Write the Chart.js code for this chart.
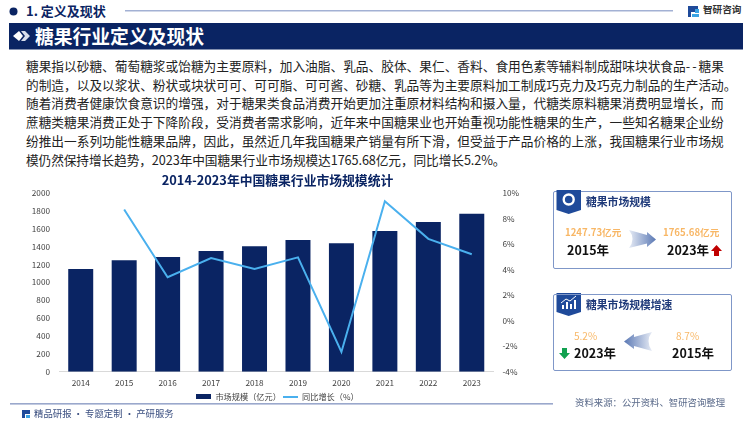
<!DOCTYPE html>
<html lang="zh">
<head>
<meta charset="utf-8">
<script src="https://cdn.jsdelivr.net/npm/chart.js@4"></script>
<style>
  html, body { margin: 0; padding: 0; background: #fff; }
  body { width: 750px; height: 422px; position: relative; overflow: hidden; font-family: "Noto Sans CJK SC", sans-serif; }
  .t { position: absolute; white-space: nowrap; line-height: 1; }
  svg { position: absolute; overflow: visible; }
  #chartWrap { position: absolute; left: 20px; top: 165px; width: 515px; height: 246px; }
  .line { position: absolute; left: 26px; white-space: nowrap; font-size: 12.7px; line-height: 1; color: #222; }
  .card { position: absolute; left: 553px; width: 177px; border: 1px solid #7f97c8; border-radius: 2px; box-sizing: content-box; }
  .cardTitle { position: absolute; left: 586px; white-space: nowrap; font-size: 10.8px; font-weight: 700; line-height: 1; color: #1f3a7a; }
  .num { position: absolute; white-space: nowrap; font-size: 9.6px; font-weight: 700; line-height: 1; color: #f8b766; }
  .yr { position: absolute; white-space: nowrap; font-size: 12.5px; font-weight: 700; line-height: 1; color: #111; }
</style>
</head>
<body>

<!-- header -->
<svg style="left:0;top:0" width="750" height="60">
  <circle cx="13.5" cy="11.5" r="4" fill="#0a2463"/>
  <rect x="125" y="10" width="548" height="1.5" fill="#a3b1d4"/>
  <rect x="9" y="23" width="734" height="26.5" fill="#0a2463"/>
  <path d="M13 36 L19 31 L23 36 L19 41Z" fill="#fff"/>
  <path d="M21 31 L25 31 L30 36 L25 41 L21 41 L25 36Z" fill="#d8deec"/>
  <!-- logo -->
  <path d="M688 6 H698 V12 H691 V17 H688Z" fill="#1f4a9a"/>
  <path d="M699 9 H695 V13 H699Z M692 17 H699 V14 H692Z" fill="#3aa3e3"/>
</svg>
<div class="t" style="left:26px;top:4px;font-size:13px;font-weight:700;color:#0a2463">1. 定义及现状</div>
<div class="t" style="left:703px;top:5px;font-size:9.6px;font-weight:700;color:#333">智研咨询</div>
<div class="t" style="left:35px;top:26.5px;font-size:18.8px;font-weight:700;color:#fff">糖果行业定义及现状</div>

<!-- body text -->
<div class="line" style="top:60px">糖果指以砂糖、葡萄糖浆或饴糖为主要原料，加入油脂、乳品、胶体、果仁、香料、食用色素等辅料制成甜味块状食品<span style="letter-spacing:2px">--</span>糖果</div>
<div class="line" style="top:78.5px">的制造，以及以浆状、粉状或块状可可、可可脂、可可酱、砂糖、乳品等为主要原料加工制成巧克力及巧克力制品的生产活动。</div>
<div class="line" style="top:97px">随着消费者健康饮食意识的增强，对于糖果类食品消费开始更加注重原材料结构和摄入量，代糖类原料糖果消费明显增长，而</div>
<div class="line" style="top:116px">蔗糖类糖果消费正处于下降阶段，受消费者需求影响，近年来中国糖果业也开始重视功能性糖果的生产，一些知名糖果企业纷</div>
<div class="line" style="top:135px">纷推出一系列功能性糖果品牌，因此，虽然近几年我国糖果产销量有所下滑，但受益于产品价格的上涨，我国糖果行业市场规</div>
<div class="line" style="top:154px;letter-spacing:-0.1px">模仍然保持增长趋势，2023年中国糖果行业市场规模达1765.68亿元，同比增长5.2%。</div>

<!-- chart -->
<div id="chartWrap"><canvas id="marketChart"></canvas></div>

<!-- card 1 -->
<div class="card" style="top:191px;height:76px"></div>
<svg style="left:0;top:0" width="750" height="422">
  <defs>
    <linearGradient id="fadeR" x1="0" x2="1" y1="0" y2="0">
      <stop offset="0" stop-color="#e6ebf5"/><stop offset="1" stop-color="#5a78b4"/>
    </linearGradient>
    <linearGradient id="fadeL" x1="1" x2="0" y1="0" y2="0">
      <stop offset="0" stop-color="#e6ebf5"/><stop offset="1" stop-color="#5a78b4"/>
    </linearGradient>
  </defs>
  <path d="M556.5 190 H581 V210 L568.7 214 L556.5 210Z" fill="#1f4a9a"/>
  <circle cx="568.7" cy="199.5" r="5" fill="none" stroke="#fff" stroke-width="2.4"/>
  <path d="M629 230 L647 235 V232 L656 239.5 L647 247 V243.500 L629 248 Q636 239 629 230Z" fill="url(#fadeR)"/>
  <path d="M716.500 245 L722 251 H719 V256 H714 V251 H711Z" fill="#c00000"/>

  <path d="M556.500 293 H581 V312 L568.700 316 L556.500 312Z" fill="#1f4a9a"/>
  <path d="M562 309 V305 H564 V309Z M566 309 V302 H568 V309Z M570 309 V304 H572 V309Z M574 309 V300 H576 V309Z" fill="#fff"/>
  <path d="M561 303 L566 299 L570 301 L576 296" fill="none" stroke="#fff" stroke-width="1"/>
  <path d="M652 332 L634 337 V334 L624 341.500 L634 349 V346 L652 351 Q645 341 652 332Z" fill="url(#fadeL)"/>
  <path d="M564.500 359 L570 353 H567 V348 H562 V353 H559Z" fill="#12a150"/>

  <rect x="10" y="403" width="543" height="1.6" fill="#9aa8cc"/>
  <path d="M22 410 H30 V414 H25 V418 H22Z" fill="#1f4a9a"/>
  <path d="M30 415 H26 V418 H30Z" fill="#3aa3e3"/>
</svg>
<div class="cardTitle" style="top:196px">糖果市场规模</div>
<div class="num" style="left:565px;top:228px">1247.73亿元</div>
<div class="yr" style="left:567px;top:244px">2015年</div>
<div class="num" style="left:663px;top:228px">1765.68亿元</div>
<div class="yr" style="left:667px;top:244px">2023年</div>

<!-- card 2 -->
<div class="card" style="top:294px;height:75px"></div>
<div class="cardTitle" style="top:299px">糖果市场规模增速</div>
<div class="num" style="left:574px;top:331px;font-weight:400;font-size:10px">5.2%</div>
<div class="yr" style="left:574px;top:347px">2023年</div>
<div class="num" style="left:676px;top:331px;font-weight:400;font-size:10px">8.7%</div>
<div class="yr" style="left:672px;top:347px">2015年</div>

<!-- footer -->
<div class="t" style="left:575px;top:398px;font-size:9.4px;color:#5a6a8a">资料来源：公开资料、智研咨询整理</div>
<div class="t" style="left:34px;top:409px;font-size:9.4px;color:#3b4f80">精品研报 · 专题定制 · 产研服务</div>

<script>
const years = ['2014', '2015', '2016', '2017', '2018', '2019', '2020', '2021', '2022', '2023'];
const marketSize = [1149, 1247.73, 1283, 1350, 1402, 1473, 1436, 1574, 1675, 1765.68];
const growthRate = [null, 8.7, 3.4, 4.9, 4.05, 4.95, -2.45, 9.35, 6.4, 5.2];
const sizeTicks = [0, 200, 400, 600, 800, 1000, 1200, 1400, 1600, 1800, 2000];

const navy = '#0a2463';
const sky = '#4ab0ee';
const tickFont = { family: '"Noto Sans CJK SC", sans-serif', size: 8.2 };

// legend swatches are wider than the default point styles
function swatch(color, h) {
    const c = document.createElement('canvas');
    c.width = 15;
    c.height = h;
    const g = c.getContext('2d');
    g.fillStyle = color;
    g.fillRect(0, 0, 15, h);
    return c;
}

new Chart(document.getElementById('marketChart'), {
    type: 'bar',
    data: {
        labels: years,
        datasets: [
            {
                type: 'line',
                label: '同比增长（%）',
                data: growthRate,
                borderColor: sky,
                backgroundColor: sky,
                borderWidth: 2,
                pointRadius: 0,
                tension: 0,
                yAxisID: 'y1',
                pointStyle: swatch(sky, 2),
                order: 1
            },
            {
                label: '市场规模（亿元）',
                data: marketSize,
                backgroundColor: navy,
                barPercentage: 0.575,
                categoryPercentage: 1,
                yAxisID: 'y',
                pointStyle: swatch(navy, 5),
                order: 2
            }
        ]
    },
    options: {
        responsive: true,
        maintainAspectRatio: false,
        animation: false,
        layout: { padding: 0 },
        plugins: {
            title: {
                display: true,
                text: '2014-2023年中国糖果行业市场规模统计',
                color: navy,
                font: { family: tickFont.family, size: 12.8, weight: '700' },
                padding: { top: 7, bottom: 5.5 }
            },
            legend: {
                position: 'bottom',
                reverse: true,
                labels: {
                    usePointStyle: true,
                    pointStyleWidth: 15,
                    color: '#404040',
                    font: tickFont,
                    padding: 2,
                    boxHeight: 8
                }
            },
            tooltip: { enabled: false }
        },
        scales: {
            x: {
                grid: { display: false, drawTicks: false },
                border: { color: '#d9d9d9' },
                ticks: { color: '#404040', font: tickFont, padding: 6, maxRotation: 0 },
                afterFit: function (s) { s.height = 19; }
            },
            y: {
                min: 0,
                max: 2000,
                afterBuildTicks: function (s) { s.ticks = sizeTicks.map(function (v) { return { value: v }; }); },
                grid: { display: false, drawTicks: false },
                border: { display: false },
                ticks: {
                    color: '#404040',
                    font: tickFont,
                    padding: 9,
                    callback: function (v) { return String(v); }
                },
                afterFit: function (s) { s.width = 39; }
            },
            y1: {
                position: 'right',
                min: -4,
                max: 10,
                grid: { display: false, drawTicks: false },
                border: { display: false },
                ticks: {
                    stepSize: 2,
                    color: '#404040',
                    font: tickFont,
                    padding: 9,
                    callback: function (v) { return v + '%'; }
                },
                afterFit: function (s) { s.width = 41.5; }
            }
        }
    }
});
</script>
</body>
</html>
